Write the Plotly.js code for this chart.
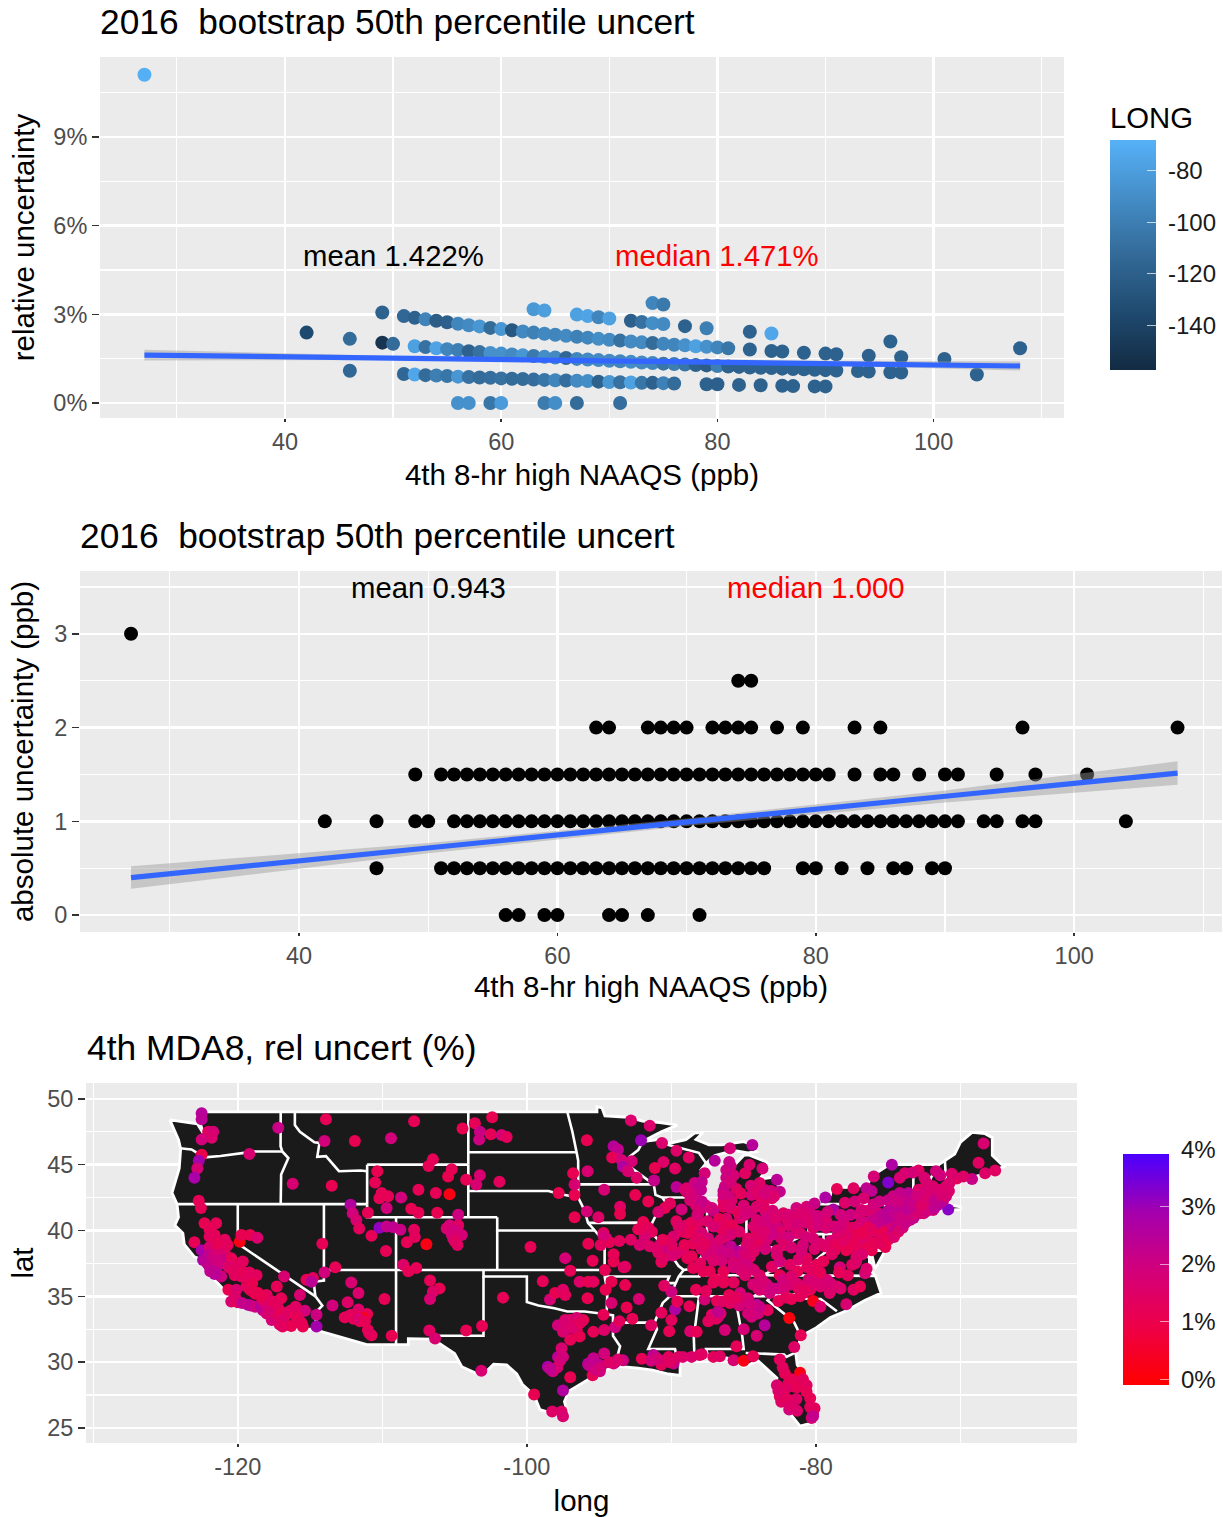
<!DOCTYPE html>
<html><head><meta charset="utf-8">
<script src="https://cdn.plot.ly/plotly-3.0.1.min.js"></script>
<style>html,body{margin:0;padding:0;background:#fff}#chart{width:1223px;height:1517px}</style>
</head><body><div id="chart"></div>
<script>
// ---- Ozone design values vs. uncertainty, one row per absolute-uncertainty level ----
const ppbAt3 = [27];
const relAt3 = [11.11];
const longAt3 = [-69];
const ppbAt25 = [74,75];
const relAt25 = [3.38,3.33];
const longAt25 = [-95,-103];
const ppbAt2 = [63,64,67,68,69,70,72,73,74,75,77,79,83,85,96,108];
const relAt2 = [3.17,3.13,2.99,2.94,2.90,2.86,2.78,2.74,2.70,2.67,2.60,2.53,2.41,2.35,2.08,1.85];
const longAt2 = [-83,-80,-78,-76,-95,-78,-120,-108,-90,-92,-118,-100,-118,-75,-118,-118];
const ppbAt15 = [49,51,52,53,54,55,56,57,58,59,60,61,62,63,64,65,66,67,68,69,70,71,72,73,74,75,76,77,78,79,80,81,83,85,86,88,90,91,94,97,101];
const relAt15 = [3.06,2.94,2.88,2.83,2.78,2.73,2.68,2.63,2.59,2.54,2.50,2.46,2.42,2.38,2.34,2.31,2.27,2.24,2.21,2.17,2.14,2.11,2.08,2.05,2.03,2.00,1.97,1.95,1.92,1.90,1.88,1.85,1.81,1.76,1.74,1.70,1.67,1.65,1.60,1.55,1.49];
const longAt15 = [-118,-115,-118,-97,-122,-120,-95,-92,-85,-112,-85,-125,-93,-98,-93,-95,-92,-98,-95,-90,-92,-108,-92,-92,-112,-95,-95,-88,-78,-88,-95,-105,-118,-118,-118,-118,-118,-118,-118,-118,-118];
const ppbAt1 = [42,46,49,50,52,53,54,55,56,57,58,59,60,61,62,63,64,65,66,67,68,69,70,71,72,73,74,75,76,77,78,79,80,81,82,83,84,85,86,87,88,89,90,91,93,94,96,97,104];
const relAt1 = [2.38,2.17,2.04,2.00,1.92,1.89,1.85,1.82,1.79,1.75,1.72,1.69,1.67,1.64,1.61,1.59,1.56,1.54,1.52,1.49,1.47,1.45,1.43,1.41,1.39,1.37,1.35,1.33,1.32,1.30,1.28,1.27,1.25,1.23,1.22,1.20,1.19,1.18,1.16,1.15,1.14,1.12,1.11,1.10,1.08,1.06,1.04,1.03,0.96];
const longAt1 = [-135,-112,-150,-112,-78,-108,-76,-95,-100,-118,-108,-88,-88,-92,-85,-103,-90,-92,-115,-95,-92,-92,-92,-95,-90,-92,-95,-105,-100,-105,-118,-122,-100,-118,-118,-118,-118,-118,-118,-118,-118,-118,-118,-118,-118,-118,-118,-118,-118];
const ppbAt05 = [46,51,52,53,54,55,56,57,58,59,60,61,62,63,64,65,66,67,68,69,70,71,72,73,74,75,76,79,80,82,84,86,87,89,90];
const relAt05 = [1.09,0.98,0.96,0.94,0.93,0.91,0.89,0.88,0.86,0.85,0.83,0.82,0.81,0.79,0.78,0.77,0.76,0.75,0.74,0.72,0.71,0.70,0.69,0.68,0.68,0.67,0.66,0.63,0.63,0.61,0.60,0.58,0.57,0.56,0.56];
const longAt05 = [-115,-115,-75,-112,-100,-105,-85,-108,-112,-110,-108,-112,-112,-110,-105,-95,-110,-92,-90,-118,-85,-108,-78,-105,-118,-98,-112,-118,-120,-118,-118,-118,-118,-118,-118];
const ppbAt0 = [56,57,59,60,64,65,67,71];
const relAt0 = [0,0,0,0,0,0,0,0];
const longAt0 = [-88,-88,-105,-82,-102,-90,-112,-110];

// ---- Linear fits and confidence ribbons ----
const fitX = [27,50,70,90,108];
const relFit = [1.62,1.52,1.44,1.35,1.25];
const relUpper = [1.80,1.59,1.51,1.43,1.40];
const relLower = [1.44,1.45,1.37,1.27,1.10];
const absFit = [0.40,0.715,0.99,1.265,1.515];
const absUpper = [0.52,0.77,1.03,1.33,1.64];
const absLower = [0.28,0.66,0.95,1.20,1.39];

// ---- Map outline of the lower 48 (long, lat) ----
const outlineLon = [-124.7,-123.2,-122.8,-122.4,-122.8,-95.15,-95.15,-94.8,-94.6,-93,-92,-90.8,-89.6,-90.7,-92,-90.9,-90.4,-89,-88.4,-87.8,-88.3,-87.4,-86.5,-85,-84.4,-84.1,-84.7,-85.5,-86.3,-87,-87.6,-88,-87.4,-87.1,-87.5,-87.9,-87.8,-87.5,-87,-86.5,-86.2,-86.5,-86.3,-85.6,-85,-84.7,-83.4,-83.3,-83.9,-82.9,-82.45,-82.9,-83.2,-83.4,-82.5,-81.7,-80.5,-79,-78.9,-77.5,-76.4,-76.2,-75,-74.7,-71.5,-71.1,-70.4,-70,-69.2,-68.3,-67.8,-67.8,-67,-68,-69,-70.2,-70.7,-70.8,-71,-70.6,-70,-70,-71.2,-72.9,-73.7,-72,-74,-74,-74.9,-75.5,-75.1,-75.9,-76.3,-76.3,-75.9,-75.5,-76.6,-77.9,-79,-80,-81,-81.4,-81.3,-80.5,-80,-80.2,-81.1,-81.8,-82.3,-82.8,-82.7,-83.4,-84,-85,-85.7,-86.5,-88,-89,-89.6,-89.4,-89.4,-90.2,-91.3,-92.3,-93.8,-94.8,-95.9,-97.1,-97.4,-97.15,-97.6,-99.1,-99.5,-100.3,-100.7,-101.4,-102.3,-102.9,-103.2,-104.5,-105,-106.5,-108.2,-108.2,-111.07,-114.8,-117.1,-117.3,-118.4,-118.5,-119.2,-120.5,-120.65,-121.9,-122.5,-122.5,-123,-123.7,-123.8,-124.35,-124.1,-124.2,-124.55,-124.05,-123.95,-124.1,-124.7];
const outlineLat = [48.4,48.15,48.1,47.4,49,49,49.4,49.3,48.7,48.6,48.3,48.2,48,47.5,46.75,46.9,46.55,46.9,47.4,47.45,46.9,46.5,46.5,46.75,46.5,46,45.9,46.05,45.9,45.7,45.1,44.55,44.9,45.25,44.4,43,42.3,41.7,41.7,42.1,43,43.6,44.7,45,45.7,45.75,45.2,44.8,43.9,44.05,43,42.4,42,41.7,41.4,41.5,42,42.7,43.3,43.25,43.5,44.1,44.95,45,45,45.3,45.8,46.7,47.45,47.35,47.05,45.7,44.85,44.4,44.1,43.6,43,42.6,42.3,41.9,41.8,41.6,41.5,41.25,40.95,41.1,40.6,39.7,38.95,39.5,38.7,37.1,38.9,37,36.6,35.25,34.7,33.9,33.4,32.6,32,30.7,29.8,28.4,26.8,25.4,25.15,26.1,27,27.9,28.8,29.5,30.1,29.65,30.2,30.4,30.25,30.4,30.2,29.8,29,29.1,29.4,29.55,29.7,29.3,28.6,27.8,27,25.95,25.9,26.4,27.5,28.3,29.1,29.8,29.85,29.2,29,29.65,30.65,31.75,31.78,31.33,31.33,32.5,32.53,33,33.75,34.03,34.15,34.45,35.15,36.6,37.5,37.8,38,38.95,39.8,40.4,41,42,42.85,44.7,46.2,46.9,48.4];
// ---- State borders, null separates one border from the next ----
const borderLon = [-124,-123.2,-122.3,-121.2,-119.3,-118.98,-116.92,null,-117.03,-117.04,-116.92,-116.5,-117,-117.03,null,-124.2,-111.05,null,-120,-120,-114.63,null,-114.63,-114.15,-114.5,-114.72,-114.5,-114.72,null,-114.04,-114.04,-114.75,-114.63,null,-114.04,-94.62,null,-111.05,-111.05,-102.05,null,-111.05,-104.05,null,-111.05,-111.05,null,-109.05,-109.05,null,-116.05,-116.05,-115.7,-114.7,-114.35,-114.5,-113.9,-113.45,-113,-111.5,-111.05,null,-104.05,-104.05,null,-104.05,-104.05,null,-104.05,-96.56,null,-104.05,-98.5,-97.9,-96.45,null,-102.05,-102.05,-95.3,null,-102.05,-102.05,null,-97.2,-96.85,-96.56,-96.45,-96.45,-91.22,null,-96.45,-96.45,-96,-95.85,-95.77,-95.3,-94.62,-94.62,null,-95.77,-91.73,-91.42,null,-103,-103,-100,-100,-99.2,-98.1,-97.2,-96,-94.48,null,-103,-103,-106.62,-106.5,null,-94.62,-94.43,-94.48,-94.04,-94.04,-94.04,-93.55,-93.75,-93.8,null,-94.04,-91.17,null,-94.62,-90.15,-90.35,-89.7,null,-92,-92.3,-92.9,-92.75,-91.22,-91.1,-90.64,-90.15,-91.05,-91.42,-91.5,-90.7,-90.2,-90.2,-89.5,-89.15,-89.5,-89.7,-90.1,-90.6,-91.17,-91,-91.6,-89.75,-89.6,null,-90.64,-87.8,null,-90.4,-88.1,-87.6,null,-87.53,-87.53,-87.6,-88,null,-89.15,-88.5,-88,-87,-86.3,-85.6,-85.4,-84.82,-84.2,-83,-82.6,null,-84.82,-84.8,null,-87,-84.8,-83.45,null,-80.52,-80.52,-80.7,-81.7,-82.2,-82.6,-82.6,-81.97,-83.68,-88.07,-88.07,-89.5,null,-83.68,-81.68,-75.87,null,-81.68,-82,-83.1,-84.32,null,-90.1,-83.11,-82.3,-81.05,-80.8,-79.68,-78.55,null,-83.11,-83.35,-82,-81.5,-81.1,null,-81.45,-82.05,-82.2,-84.86,null,-87.45,-87.6,-85,-85.1,-85.6,null,-88.2,-88.1,-88.45,-88.4,null,-81.97,-81.68,-80.3,-79.3,-78.35,-77.75,-77.1,-77.25,-76.3,null,-77.75,-78.35,-79.48,-79.48,null,-80.52,-75.79,-75.7,-75.05,null,-80.52,-80.52,null,-79.76,-79.76,-75.35,-74.7,-75.1,-74.75,-75.5,null,-74.7,-73.9,null,-73.65,-73.5,-73.27,-73.25,null,-73.27,-71.3,-70.8,null,-73.5,-71.8,-71.38,-71.2,null,-71.8,-71.85,null,-72.46,-72.05,-71.5,null,-71.08,-70.98,-70.7];
const borderLat = [46.25,46.15,45.55,45.65,45.93,46,46,null,49,46.4,46,45.5,44.25,42,null,42,42,null,42,39,35,null,35,34.3,33.9,33.4,33,32.72,null,42,36.2,36.1,35,null,37,37,null,42,41,41,null,45,45,null,42,45,null,41,31.33,null,49,48,47.5,46.7,46.65,45.6,45.65,45.05,44.5,44.55,44.5,null,49,45,null,45,41,null,45.94,45.94,null,43,43,42.8,42.5,null,41,40,40,null,40,37,null,49,47.5,45.94,45.3,43.5,43.5,null,43.5,42.5,41.5,41,40.58,40,39.1,36.5,null,40.58,40.6,40.38,null,37,36.5,36.5,34.56,34.3,34.1,33.85,33.85,33.64,null,36.5,32,32,31.75,null,36.5,35.4,33.64,33.55,33,32,31.2,30.4,29.7,null,33,33,null,36.5,36.5,36,36,null,46.7,46.1,45.6,44.75,43.5,42.7,42.5,41.8,41.2,40.38,40,39,38.7,38.4,37.3,37,36.5,36,35,34.5,33,32.5,31,31,30.2,null,42.5,42.5,null,46.55,45.9,45.1,null,41.7,39.35,38.7,37.85,null,37,37.1,37.85,37.9,38.1,38.3,38.7,39.1,38.85,38.7,38.4,null,39.1,41.7,null,41.76,41.76,41.73,null,42,39.72,39.7,39.2,38.6,38.4,37.9,37.54,36.6,36.6,36.5,36.5,null,36.6,36.59,36.55,null,36.59,36.1,35.75,35,null,35,35,35.2,35.1,34.82,34.8,33.86,null,35,34.7,33.5,33,32.1,null,30.7,30.4,30.57,30.7,null,30.4,31,31,32,34.98,null,35,34.9,31.9,30.2,null,37.54,37.2,37.5,38.4,39.4,39.3,38.9,38.4,37.95,null,39.3,39.6,39.2,39.72,null,39.72,39.72,38.46,38.46,null,40.64,39.72,null,42.27,42,42,41.36,40.95,40.2,39.8,null,41.36,41,null,41,42.05,42.75,45,null,42.75,42.7,42.87,null,42.05,42.02,42.02,41.5,null,42.02,41.3,null,42.73,44,45,null,45.3,43.4,43.05];

// ---- Monitor sites: long, lat, relative uncertainty (%) ----
const siteLon = [-122.5,-122.5,-117.2,-122.05,-121.7,-121.8,-122.5,-119.2,-122.5,-122.7,-122.8,-123,-122.7,-122.55,-116.2,-113.5,-113.9,-114,-111.9,-109.4,-107.8,-104.45,-103.6,-102.4,-103.25,-103.3,-102.5,-101.75,-101.4,-106.5,-106.8,-105.2,-105.45,-110.35,-110.5,-104.2,-103.25,-103.5,-101.9,
-110.05,-109.6,-110.2,-109.7,-108.7,-107.5,-106.3,-105.35,-108,-107.5,-106.2,-104.75,-111,-112.2,-112.05,-111.8,-111.6,-110.75,-110.2,-109.7,-109.25,-108.75,-107.8,-107.75,-108.3,-106.95,-109.75,-114.15,
-105.35,-104.75,-105.1,-104.5,-104.8,-105.55,-105.1,-108.55,-108.2,-107.65,-106.7,-106.05,-106.5,-106.7,-113.25,-114,-112.15,-111.65,-112.4,-113.45,-109.85,
-112.6,-112.15,-111.65,-111.05,-111.3,-111.55,-111,-110.75,-109.35,-111.9,-106.75,-106.35,-104.2,-103.1,-101.65,-98.9,-99.75,
-119.86,-119.75,-119.15,-118.65,-116.8,-115.25,-114.8,-114.9,-115.7,-114.55,-114.55,
-122.3,-121.5,-121.95,-121.6,-123,-122.5,-121.95,-121.25,-120.9,-120.45,-122.4,-121.95,-121.5,-121.15,-120.1,-119.65,-119.75,-119.15,-118.7,-120.65,-120.1,-119.15,-118.6,-120.45,-120,-119.3,-118.6,-118,-117.3,-117,-117.8,-117.45,-116.3,-115.35,-117.1,-116.3,-115.5,-116.75,-115.8,
-121.95,-121.5,-121.15,-120.65,-120.2,-119.4,-121.25,-121.85,-118.25,-118,-117.65,-117.2,
-99.5,-98.25,-97.6,-97.5,-103.15,-97.5,-98.55,-98.2,-97,-97.85,-97.6,-97,-97.85,-97,-96.1,-97.5,-96.55,-96.35,-96.9,-95.75,-97.35,-96.55,-97.15,
-98.4,-98.05,-97.5,-97.35,-96.35,-95.75,-95.8,-97.35,-97,-95.75,-97.8,-96.7,-96.8,-96.7,-95.85,-95.8,-96.7,-95.85,
-94.65,-92.5,-91.6,-93.55,-93.55,-95.05,-91.95,-92.8,-91.5,-92.1,-90.65,-89.65,-88.8,-90.55,-91.15,-89.75,-91.2,-94,-93.7,-94.1,-93.45,-92.75,-93.35,-93,-92.4,
-89.65,-88.95,-88.4,-87.7,-87.9,-88.5,-88.15,-89.05,-90.45,-90.1,-88.7,-88.25,-87.7,-88.05,
-85.95,-84.4,-87,-86.05,-85.7,-86.3,-84.9,-85.5,-85.85,-86.4,-87.1,-84.45,-83.5,-82.7,-82.5,-83.05,-83.75,-83.5,-86.2,-86.05,-86.4,
-89.65,-88.95,-88.25,-88.85,-91.35,-91.85,-92.2,-90.8,-89.85,-90.1,-90.45,-89.65,-88.5,-88.6,-87.45,-86.55,-87.1,-86.2,-85.6,-85.25,-85.7,-85,-84.55,-87.55,-86.9,-84.55,-88.5,-87.8,-87.35,-86.4,-85.5,-86.3,-86.55,-87.1,
-84.7,-84.1,-83.05,-82.7,-84.1,-82.25,-81.35,-80.65,-80.1,-81.55,-80.3,-79.25,-78.1,-81.35,-79.7,-78.8,-79.35,-78.55,-77.4,-76.5,-76.15,-83.4,-83.9,-82,-81.9,-80.9,-81.1,-80.4,-79.7,-82.5,
-76,-75,-74.75,-74.2,-73.85,-72.9,-72.35,-73.6,-71.4,-70.25,-69.2,-68.75,-68.3,-67.6,-68.4,-76.7,-76.85,-75.7,-71.9,-71,-72.6,-71.4,-72.9,-74.65,-74.2,
-78.1,-77.5,-76.7,-76,-75.35,-74.65,-74.2,-73.5,-72.8,-72.1,-70.75,-77.2,-76.25,-75.55,-74.9,-74.2,-73.25,-72.55,-71.55,-70.85,-71.9,-71.2,-78.7,-77.9,-76.15,-75.2,-77.05,-76.5,-75.8,-75.1,-74.4,-73.85,-73,-72.35,-71.65,-77.4,-76.6,-75.65,-74.5,-73.6,-72.9,-73.5,-72.1,
-82.7,-83.05,-82.5,-80.9,-80.65,-79.95,-79.5,-78.35,-77.3,-76.6,-81.3,-82.5,-76.5,-82.7,-77.5,
-83.9,-84.35,-83.65,-83.2,-82,-81.35,-80.2,-79.25,-78.55,-81.1,-80.4,-80.2,-79.7,-79.05,-77.9,-77.4,-76.95,-82.6,-87.1,-86.4,-85.7,-87.7,-86.85,-85.25,-84.7,-84.1,-84.2,-84.45,-83.55,-83.35,-84.1,-85,-85.95,-86.75,-87.45,-86.3,-81.85,-81.05,-81.5,-83.9,-83.4,-80.65,-79.7,
-93.2,-93.2,-94,-94.6,-95.4,-94.15,-94.55,-94.15,-93.1,-92.25,-90,-89.75,-90.7,-88.75,-90.15,-88.7,-88.25,
-95.4,-94.65,-93.9,-94.65,-95.4,-95.75,-94.95,-94,-93.35,-95.45,-92.05,-91.25,-90.7,-90.2,-89.85,-89.2,-88.6,-88.05,-87.1,-86.65,-85.7,-85.5,-85,-84.35,-95.2,-93.9,
-82.5,-82.15,-81.1,-82.7,-81.9,-81.35,-80.65,-82.5,-80.4,-81.35,-81.85,-80.2,-80.3,-82.25,-82.4,-80.65,-81.55,
-94.7,-94.5,-95.45];
const siteLat = [48.9,48.45,47.8,47.5,47.5,47.05,46.9,45.8,45.75,45.3,44.7,44,42.25,41.7,43.55,43.4,48.45,46.8,46.8,47,48.3,47.75,48.15,48.6,47.5,46.9,47.3,47.25,47.1,45.4,44.9,44.65,44.1,44.5,43.65,43.85,44.2,43.5,43.7,
42.85,42.6,42.45,41.7,42.5,43.1,42.85,42.75,41.65,41.35,41.35,41.2,41.35,41.95,41.3,40.8,40.15,39.6,40.2,40.3,40.25,40.05,40.05,39.5,39.1,38.95,38.45,39,
40.4,40.4,39.9,39.65,38.9,40.15,39.4,37.4,36.9,37.15,36.2,35.6,35.35,34.8,37.2,36.8,36.05,35.25,34.55,34.3,34.8,
33.4,33.6,34,33.65,33.35,33.1,32.45,32.05,32,33.45,32.4,31.8,32.4,32.75,34.9,36.15,38.75,
39.15,39.65,39.65,39.45,36.5,36.25,36.4,36.1,35.1,33.6,32.7,
40.55,40.55,40.05,39.65,39.1,38.5,38.75,39,38.3,37.9,37.75,37.25,37,36.5,37.25,37.65,36.5,36.25,36.6,35.5,35.5,35.5,35.25,34.6,34.55,34.35,34.25,35.1,35.75,34.85,34.2,33.7,33.95,33.9,32.85,32.75,32.7,33.45,33.45,
39.55,38.25,37.5,37.25,36.6,35.75,38,37.9,33.95,33.7,33.2,34.1,
27.55,26.25,26.25,25.9,29.35,27.85,29.65,29.3,28.85,30.4,31.05,31.7,32.8,33.2,33.2,32.3,32.45,31.95,32.95,29.9,33.2,33.35,32.6,
34.75,35.25,35.5,35.1,36.1,36.1,34.85,37.9,36.95,39,42.85,42.7,44.35,43.5,46.85,44.5,41,41.45,
43.1,42.7,42.2,41.8,41.25,41,40.65,48.35,47.95,46.85,46.65,46.05,45.55,45.2,44.75,44.7,43.8,46.4,46.15,45.55,45.35,45.25,44.85,44.5,44,
43.3,43.2,43.6,44.35,43.7,42.6,41.3,43.1,41.7,42.05,42.3,42.95,41.95,43.3,
46.25,46.5,45.3,44.5,44.2,43.35,44.35,43.15,42.3,41.8,41.5,42.7,43.05,43.85,42.95,42.45,42.35,41.45,44,42.6,42.3,
40.7,40.4,40.15,39.8,39.9,39.5,38.9,38.9,39.55,38.75,38,38.25,39,38.05,39.4,40.55,39,39.8,40.05,40.95,38.25,37.75,38,38.15,38.25,37.15,37.15,36.9,36.9,36.9,38.25,39.55,40.15,38,
39.4,39.8,40.3,40.3,40.8,41.3,41.7,41.8,42.05,40.8,40.8,40.65,40.65,39.8,39,41.6,42.5,43.15,43.2,43.2,43,39.3,39.55,40.8,41.2,40.95,41.3,41.3,41.05,39.9,
44.1,43.65,45,44,44.35,44.55,43.6,42.85,44.2,43.95,43.9,45.15,44.35,44.55,46.6,42.45,41.55,41.3,43.35,43.35,42.6,43.1,43.1,42.6,42.85,
39.4,39.8,40.05,40.3,40.65,41.05,41.45,41.7,42.05,42.6,43.6,39,39.15,39.55,39.8,40.55,40.95,41.3,41.95,41.6,41.55,42.3,38.5,38.5,38.5,38.75,39.4,39.65,39.9,40.3,40.65,41.05,41.55,41.95,42.45,39.15,38.9,39.05,40.05,41.3,42.3,40.8,42.05,
38.5,37.25,37.65,38.9,37.9,37.4,37.65,37.2,37.5,36.75,36.9,36.6,37.1,38.15,37.4,
36.6,35.9,35.75,35.25,36.25,36,36.15,36.25,35.75,35,35.5,34.65,34.2,35.25,34.4,35.5,35.75,34.65,36.05,36.05,36.05,34.75,34.65,35.25,34.85,34.35,33.85,33.45,32.8,33.95,32,32.5,34.5,33.45,33.1,32.45,33.35,32.05,31.15,35.5,35.5,35.9,35.75,
37.25,35.85,37.65,37,36.1,36.1,35.5,34.5,34.15,34.8,35.35,34,33.75,34.25,32.35,32.35,32.3,
32.3,32.45,32.65,30.65,30.3,29.8,29.3,29.9,30.15,29,30.25,30.55,29.8,30.4,29.9,30.4,30.4,30.55,30.4,30.45,30.15,31.2,30.1,30.45,29.65,30,
30.2,29.15,29.2,28.25,28.4,28.5,28.25,27.4,27.25,27.2,26.4,26.1,25.75,27.75,27,27.75,28.15,
39.8,39.4,37.7];
const siteRel = [2.5,2.4,2.1,1.4,1.8,1.6,1.9,1.7,1,2.9,1.8,2.8,1.2,1.2,1.7,1.1,1.2,1.9,1.1,1.9,1.2,1.1,1.2,1.1,2.1,2,1.2,1.8,1.3,1.2,1.2,1.2,1.1,1.1,1.2,1.2,1.7,1.7,1.3,
1.2,1.2,1.2,1.9,1.9,1.2,1.2,0.2,1.1,1.2,1.1,2,1.2,2.6,1.9,1.7,1.3,1.2,3.1,2.2,2.3,2.1,1.3,1.3,1.2,0.2,1.2,1.2,
1.9,1.4,2,1.8,1.4,1.7,1.9,1.5,1.2,1.2,1.2,1.1,1.5,1.7,1.2,1.9,1.7,1.6,1.5,1.9,1.2,
1.2,1.5,1.6,1.2,0.2,1.2,1.2,1.1,1.1,1.4,1.4,1.7,1.2,1.2,1.2,1.2,1.2,
0.2,1.1,1.1,1.6,1.7,1.2,1.3,2.4,1.7,2,2.9,
1.1,1.2,1.2,1.2,1.2,2.8,1.7,1.6,1.5,1.2,2.7,2.3,2.3,2,1.4,1.3,1.3,1.3,1.3,1.1,1.7,1.2,1,1.6,1.2,2.6,2.1,1.3,1.2,1.2,1.9,1.3,1.1,1.9,1.7,1.1,1.1,1.2,1.5,
1.3,2,2.1,1.6,1.3,1.3,2.2,2.4,2.2,1.7,1.8,1.4,
1.1,1.5,1.5,1.7,1.7,2.6,2.8,2,1.1,2.4,1.7,1.2,1.9,1.5,1.1,1.6,1.2,1.1,1.8,2.5,1.6,1.7,1.9,
1.8,1.1,1.5,1.3,1.5,1.1,1.1,1.8,1.2,1.1,1.1,1.1,1.1,1.7,1.1,1.7,1.1,1.8,
1.8,1.1,1.1,1.4,1.1,1.5,1.1,1.6,1.6,3,1.6,1.5,1.4,1.5,1.1,1.4,2.2,2.5,2.3,1.2,1.8,1.8,2.6,1.7,1.5,
2.4,1.7,2,1.8,2.2,1.8,1.8,1.5,1.2,1.3,1.7,2.1,2,2.3,
1.8,2.5,2.5,1.9,1.8,2,1.4,1.4,1.6,1.2,2.2,1.8,1.8,2.4,2.2,1.4,1.3,1.9,2,1.9,1.3,
1.3,1.6,1.3,1.1,1.3,1.7,1.7,1.7,1.7,1.5,2.3,1.4,1.2,1.2,1.8,1.8,1.7,1.4,0.3,1.6,3.3,1.9,1.4,1.8,1.7,1.7,1.2,1.2,1.2,1.2,2.4,1.2,1.3,1.8,
1.4,1.3,1.9,2,1.6,1.5,1.9,1.8,2.1,1.3,1.5,1.6,1.8,1.7,1.6,2.7,2.7,1.2,1.4,2.3,2.3,1.7,1.5,1.5,1.7,1.9,1.6,1.8,1.5,1.5,
1.8,3.3,2.7,1.7,1.7,1.4,1.6,2.4,1.9,1.3,2.1,1.4,1.5,1.4,1.7,1.7,1.7,1.4,1.6,1.7,1.5,1.6,1.5,2,2.2,
1.2,1.2,1,1.2,2.1,2.3,2.4,2.4,1.9,1.7,1.6,1.6,1.5,1.7,2,1.9,2.3,2,2.9,3.2,1.8,2.1,1.2,1.1,1.1,1.1,1.5,1.3,1.4,1.7,2,2.2,2.1,2,1.8,1.3,1.5,1.4,2.3,1.9,1.8,2.2,1.8,
1.6,1.4,1.9,1.8,1.3,1.2,1.2,1.8,1.6,1.8,1.2,1.1,1.6,1.7,1.4,
1.5,1.7,1.8,1.9,2.5,1.6,1.6,1.7,1.6,1.2,1.2,0.3,1.6,1.5,1.7,1.4,1.2,1.2,1.2,1.2,1.3,1.8,1.2,1.8,1.7,2.5,2.3,1.9,2.5,1.3,1.7,1.8,1.3,2.5,1.3,1.8,0.1,1.2,1.5,1.7,1.9,1.6,1.6,
1.3,1.1,1.1,1.2,1.3,1.1,1.1,1.7,1.1,1.7,2,2.7,1.3,1.2,1.2,1.6,1.2,
1.2,1.5,2,1.9,2.2,2.5,2,1.9,2,1.2,1.2,2.4,1.3,1.3,2.2,1.6,1.6,1.5,1.3,1.4,1.7,1.2,0.2,1.2,2.3,1.7,
1.3,1.2,0.2,1.7,1.2,1.2,1.4,1.2,1.2,1.5,1.9,2.4,1.8,1.2,1.4,1.2,1.3,
1.2,1.9,1.2];

// ---- Further sites in the dense clusters of the map ----
const corridorLon = [-79,-78.5,-78,-77.5,-77,-76.5,-76,-75.5,-75,-74.5,-74,-73.5,-73,-72.5,-72,-78.8,-78.3,-77.8,-77.3,-76.9,-76.4,-76,-75.4,-75,-74.6,-74.3,-74,-73.8,-73.3,-72.8,-72.3,-71.8,-71.4,-71,-70.8,-76.4,-75.9,-75.5,-75,-74.6,-74.1,-73.7,-73.2,-72.7,-72.3,-71.8,-71.3,-75.2,-75.7,-76.2,-76.9,-77.4,-77.9];
const corridorLat = [39.2,39.6,39.9,40.2,40.4,40.6,40.9,41.2,41.5,41.8,42.1,42.3,42.6,42.9,43.2,38.9,39,39.1,38.7,38.4,38.7,39,39.3,39.3,39.5,39.9,40.2,40.6,41.2,41.3,41.5,41.7,42.1,42.6,43,40.2,40.3,40.1,40.7,41,41,41.6,41.9,41.9,42.4,42.3,42.7,40.9,40.6,40.1,39.8,39.6,39.6];
const corridorRel = [1.7,1.6,1.8,1.4,1.6,1.9,2.1,2.2,2.4,2.3,2,2.2,1.9,1.8,1.7,1.3,1.1,1,1.2,1.3,1.1,1.2,1.3,1.1,1.6,1.5,1.8,2.1,1.9,1.7,1.9,2.3,2.4,1.8,1.6,1.2,1.5,1.1,1.8,2.2,2,2.3,2.1,1.5,1.6,2.2,1.7,2.4,2.2,1.3,1.1,1.2,1.5];
const ohioLon = [-81.9,-81.3,-80.7,-80.2,-79.8,-79.3,-78.7,-80.5,-79.9,-79.2,-78.3,-77.6,-77,-76.4,-76,-75.6,-75,-74.5,-78,-77.3,-82.8,-83.4,-83.8,-84.3,-82.4,-81.9,-81.1,-80.7,-80.2,-83,-83.6,-84.4,-83.9,-83.5,-84.8];
const ohioLat = [40.4,40.5,40.6,40.2,40.4,40.2,40.3,41,41.1,41.4,41.2,41.2,41.2,41.5,42,42.2,42.3,42.3,42.1,42.2,41.2,41,40.5,40.3,39.4,39.5,39.8,39.5,39.4,39.7,39.9,39.1,38.9,38.6,38.9];
const ohioRel = [1.6,1.8,1.7,1.5,1.9,1.7,1.8,1.6,1.9,1.8,1.9,2,1.8,1.7,1.9,2,2.1,2,1.6,1.8,1.7,1.9,1.8,1.6,1.7,1.9,1.6,1.8,1.7,2,1.6,1.5,1.3,1.8,1.6];
const midwestLon = [-87.2,-87.5,-87.9,-88.3,-87.9,-88.4,-88.9,-87.95,-86.3,-85.9,-85.4,-84.9,-86.2,-86.7,-87.1,-86.3,-85.8,-85.3,-85.9,-86.6,-87.2,-86.5,-85.9,-85.4,-85.1,-84.9,-84.3,-84.8,-85.7,-86.5,-87.1,-86.2,-85.9,-86,-84.6,-83.7,-83.9,-84.5,-85.2,-83.3,-83.1,-84.1,-82.9,-83.6,-86.4,-85.9,-86.4,-90.3,-90,-90.5,-90.9,-90.2,-89.9,-90.6,-89.2,-89.5,-88.6,-88.1,-87.9];
const midwestLat = [41.7,41.8,41.7,41.9,42.2,42.8,42.9,43.1,41.9,41.7,41.4,41.2,40.9,40.9,40.3,40.5,40.4,39.9,39.7,39.3,38.6,38.5,38.8,38.4,38.3,38.1,38.4,37.4,37.6,37.7,37.7,44.6,44.9,45.2,45,44.7,43.6,43.4,42.8,42.7,43,42.9,42.6,41.8,43,43.7,42.7,38.6,38.9,38.4,38.3,39.2,38.4,39.3,39.9,40.3,40.6,40.7,39.8];
const midwestRel = [2,1.8,1.9,1.7,2.1,1.9,1.7,2.2,1.4,1.6,1.3,1.8,1.6,1.2,1.7,1.3,1.2,1.5,1.7,1.6,1.8,2,2.3,2.6,2,1.7,1.5,1.9,1.7,1.8,1.6,2,1.9,2.1,1.6,1.8,1.5,1.7,1.3,1.7,1.9,1.5,1.6,1.4,2.1,1.8,1.9,1.7,1.6,2.1,1.5,1.4,1.3,1.2,1.3,1.5,1.2,1.4,1.7];
const southeastLon = [-84.1,-83.9,-84,-83.4,-83,-82.6,-82.2,-81.7,-81.2,-80.8,-80.5,-80,-79.5,-79,-78.8,-78.3,-82.3,-81.7,-80.5,-79.9,-82.1,-81.7,-84.4,-84,-83.9,-84.7,-84.6,-85.1,-85.3,-86.5,-86.9,-86.6,-87.2,-86.8,-86.4,-87,-83.7];
const southeastLat = [35.9,36,35.6,35.9,35.6,35.6,35.6,35.9,35.6,35.3,35.6,35.9,36,36,35.7,35.6,36.3,36.5,36.3,36.3,34.9,34.8,34,33.7,34.2,33.7,34.4,34.9,34.3,34.6,33.3,33.7,33.6,33.8,36.2,36.3,36.2];
const southeastRel = [1.7,1.9,1.7,1.9,2,2,1.8,1.7,1.4,1.3,1.3,1.6,1.7,1.8,1.7,1.6,1.9,1.6,1.7,1.7,1.3,1.2,2.2,1.9,2.1,1.8,1.9,1.7,1.8,1.4,1.3,1.6,1.4,2.2,1.2,1.2,1.7];
const westLon = [-122,-122.2,-122.1,-121.8,-121.6,-121.9,-121.4,-121.7,-120.7,-121.2,-120.9,-121.5,-120.6,-120.3,-119.9,-119.6,-119.2,-119.4,-119,-119,-118.8,-120.2,-119.7,-119.1,-118.8,-118.4,-118.1,-117.7,-117.4,-117.9,-117.2,-117,-116.9,-116.5,-116,-117.1,-116.9,-115.6,-116,-117.6,-118.2,-118.4,-121.4,-112.3,-112,-111.8,-111.6,-111.2,-110.9,-105,-105.2,-104.9,-104.9,-105];
const westLat = [38.1,37.8,37.5,37.3,36.7,36.9,37.7,38,38.9,38.6,39.3,38.6,37.2,36.9,36.9,36.8,36.8,36.3,36,35.4,35.2,35,34.5,34.3,34.2,34.2,34.2,34,34,33.8,33.5,33.8,33.2,33.8,33.5,33,32.7,33,34.2,34.6,34.7,35,39,33.5,33.3,33.6,33.3,33.1,32.2,40,39.7,39.9,39.6,39.2];
const westRel = [2.3,2.4,2.3,2.2,2.5,2.3,1.9,2,1.2,1.5,1.3,1.7,1.5,1.3,1.4,1.2,1.3,1.3,1.1,1.1,1.1,1.5,2.2,2.3,2,2.4,2.1,1.6,1.4,1.7,1.4,1.2,1.6,1.4,1.2,1.5,1.3,1.2,1.4,1.3,1.4,1.1,1.2,1.3,1.2,1.3,1.6,1.2,1.3,2,1.8,1.9,1.7,1.4];
const gulfLon = [-82.1,-82.4,-81.7,-81.3,-80.9,-82.3,-82,-81.7,-81.3,-80.4,-80.1,-80.2,-82.6,-95.6,-95.2,-95,-94.9,-94.3,-93.7,-91.1,-90.9,-91.4,-90.1,-89.5,-87.9,-96.8,-97.2,-96.6,-97,-96.8,-96.3,-97.7,-97.9,-98.4,-97.5,-94.6,-94.3,-94.7,-94.9,-93.3,-90.7,-91.5];
const gulfLat = [28,28,28.7,28.1,28.7,29.6,27.2,26.7,26.3,26.6,26.5,25.9,27.8,29.7,29.4,29.8,29.6,30,30.2,30.4,30.2,30.1,30,30.4,30.6,33,33,32.8,32.7,32.6,33,30.1,29.6,29.5,30.4,39.2,39.1,39.6,38.9,37.2,37.6,38.8];
const gulfRel = [1.5,1.3,1.2,1.2,1.3,1.3,1.3,1.5,1.6,1.3,1.3,2.2,1.5,2.2,1.9,2.3,1.8,1.5,1.6,2.1,1.7,1.9,1.4,1.5,1.4,1.6,1.7,1.4,1.5,1.6,1.3,1.8,1.7,2.3,1.9,1.4,1.2,1.8,1.3,1.4,1.2,1.5];
const interiorLon = [-89.2,-89.9,-90.6,-91,-91.6,-92.3,-92.8,-93.6,-94,-90.9,-89.3,-88.2,-87.5,-87.9,-88.9,-88.2,-87.7,-89.1,-88,-85,-84.5,-84.1,-83.6,-83,-82.8,-82.2,-81.7,-81,-80.1,-79.4,-78.9,-78.4,-77.8,-77.2,-76.8,-80.3,-79.7,-78.1,-77.2,-81.8,-81.2,-80.6,-85.2,-85.7,-86,-84.9,-84.3,-88.3,-87.6,-86,-85.5,-90.5,-89.6,-90,-91.4,-92.7,-93.6,-94.7,-73.3,-72.5,-71.7,-70.6,-69.8];
const interiorLat = [38.5,38.1,37.9,38.6,40.2,40.1,39.3,39.2,38.2,41.4,41.6,41.2,40.7,38.6,37.9,39.4,39,38.9,37.5,41.9,41.4,41.8,42.8,41.5,40.9,38.9,38.7,38.4,38.6,38.8,38.2,36.8,36.6,38,38.2,37,36.8,39.2,37.7,37.4,37.8,37.2,37,37.2,38.3,36.6,37,35.5,35.4,35.1,34.9,35.8,34.6,33.2,32.8,33.3,33.1,33.6,44.4,44,44.5,44.3,44.1];
const interiorRel = [1.6,1.7,1.4,1.5,1.3,1.2,1.4,1.3,1.2,1.7,1.9,1.8,1.6,1.5,1.2,1.4,1.3,1.2,1.3,1.7,1.8,1.6,1.8,1.7,1.6,1.5,1.7,1.8,1.6,1.5,1.4,1.2,1.3,1.5,1.6,1.3,1.2,1.4,1.5,1.4,1.6,1.3,1.7,1.8,2,1.6,1.7,1.2,1.3,1.2,1.3,1.4,1.2,1.3,1.4,1.2,1.3,1.2,1.8,1.7,1.9,1.6,1.5];

// ---- Axis and colour-bar labels ----
const longTicks = [-120,-100,-80];
const longTickLabels = ['-120','-100','-80'];
const legendLongVals = [-140,-120,-100,-80];
const legendLongText = ['\u00A0-140','\u00A0-120','\u00A0-100','\u00A0-80'];
const legendRelVals = [0,1,2,3];
const legendRelText = ['\u00A00%','\u00A01%','\u00A02%','\u00A03%'];

// ---- Page geometry helpers ----
const W = 1223, H = 1517;
const hDom = (a,b)=>[a/W,b/W];
const vDom = (top,bot)=>[1-bot/H,1-top/H];
const FONT = 'Liberation Sans, Arial, sans-serif';
const TICK = {family:FONT,size:23.5,color:'#4D4D4D'};
const TITLE = {family:FONT,size:29.5,color:'#000'};
const BLUES = [[0,'#132B43'],[0.25,'#1F4A6F'],[0.5,'#336A98'],[0.75,'#448DC7'],[1,'#56B1F7']];
const REDS = [[0,'#FF0000'],[0.25,'#EE0047'],[0.5,'#D2007B'],[0.75,'#A400AE'],[1,'#4B00FF']];

function axis(extra){
  return Object.assign({showgrid:true,gridcolor:'#fff',gridwidth:2.4,zeroline:false,showline:false,
    ticks:'outside',tickwidth:1.6,tickcolor:'#333',tickfont:TICK,automargin:false},extra);
}
const minor = (tick0,dtick)=>({showgrid:true,gridcolor:'#fff',gridwidth:1.2,ticks:'',tick0,dtick});

const allPpb = [].concat(ppbAt3,ppbAt25,ppbAt2,ppbAt15,ppbAt1,ppbAt05,ppbAt0);
const allRel = [].concat(relAt3,relAt25,relAt2,relAt15,relAt1,relAt05,relAt0);
const allLong = [].concat(longAt3,longAt25,longAt2,longAt15,longAt1,longAt05,longAt0);
const allAbs = [].concat(ppbAt3.map(()=>3),ppbAt25.map(()=>2.5),ppbAt2.map(()=>2),ppbAt15.map(()=>1.5),ppbAt1.map(()=>1),ppbAt05.map(()=>0.5),ppbAt0.map(()=>0));
const mapLon = [].concat(siteLon,corridorLon,ohioLon,midwestLon,southeastLon,westLon,gulfLon,interiorLon);
const mapLat = [].concat(siteLat,corridorLat,ohioLat,midwestLat,southeastLat,westLat,gulfLat,interiorLat);
const mapRel = [].concat(siteRel,corridorRel,ohioRel,midwestRel,southeastRel,westRel,gulfRel,interiorRel);

const ribbonX = fitX.concat(fitX.slice().reverse());
const traces = [
 {type:'scatter',mode:'markers',x:allPpb,y:allRel,xaxis:'x',yaxis:'y',
  marker:{size:14,color:allLong,cmin:-157.3,cmax:-68,colorscale:BLUES,line:{width:0},showscale:true,
   colorbar:{x:1110/W,xanchor:'left',xpad:0,y:1-140/H,yanchor:'top',ypad:0,len:230,lenmode:'pixels',thickness:46,thicknessmode:'pixels',
    outlinewidth:0,tickmode:'array',tickvals:legendLongVals,ticktext:legendLongText,ticks:'inside',ticklen:9,tickwidth:1,tickcolor:'rgba(255,255,255,0.7)',
    tickfont:{family:FONT,size:24,color:'#1a1a1a'}}}},
 {type:'scatter',mode:'lines',x:ribbonX,y:relUpper.concat(relLower.slice().reverse()),xaxis:'x',yaxis:'y',fill:'toself',fillcolor:'rgba(153,153,153,0.45)',line:{width:0}},
 {type:'scatter',mode:'lines',x:fitX,y:relFit,xaxis:'x',yaxis:'y',line:{color:'#3366FF',width:5.2}},

 {type:'scatter',mode:'markers',x:allPpb,y:allAbs,xaxis:'x2',yaxis:'y2',marker:{size:14,color:'#000',line:{width:0}}},
 {type:'scatter',mode:'lines',x:ribbonX,y:absUpper.concat(absLower.slice().reverse()),xaxis:'x2',yaxis:'y2',fill:'toself',fillcolor:'rgba(153,153,153,0.45)',line:{width:0}},
 {type:'scatter',mode:'lines',x:fitX,y:absFit,xaxis:'x2',yaxis:'y2',line:{color:'#3366FF',width:5.2}},

 {type:'scatter',mode:'lines',x:outlineLon,y:outlineLat,xaxis:'x3',yaxis:'y3',fill:'toself',fillcolor:'#1A1A1A',line:{color:'#fff',width:2.8}},
 {type:'scatter',mode:'lines',x:borderLon,y:borderLat,xaxis:'x3',yaxis:'y3',connectgaps:false,line:{color:'#fff',width:2.6}},
 {type:'scatter',mode:'markers',x:mapLon,y:mapLat,xaxis:'x3',yaxis:'y3',
  marker:{size:12,color:mapRel,cmin:-0.1,cmax:3.91,colorscale:REDS,line:{width:0},showscale:true,
   colorbar:{x:1123/W,xanchor:'left',xpad:0,y:1-1154/H,yanchor:'top',ypad:0,len:231,lenmode:'pixels',thickness:46,thicknessmode:'pixels',
    outlinewidth:0,tickmode:'array',tickvals:legendRelVals,ticktext:legendRelText,ticks:'inside',ticklen:9,tickwidth:1,tickcolor:'rgba(255,255,255,0.6)',
    tickfont:{family:FONT,size:24,color:'#1a1a1a'}}}}
];

const note = (text,x,y,xref,yref,size,color,anchor)=>({text,x,y,xref,yref,showarrow:false,
  xanchor:anchor||'center',yanchor:'middle',font:{family:FONT,size,color:color||'#000'}});

const layout = {
 width:W,height:H,margin:{l:0,r:0,t:0,b:0,autoexpand:false},paper_bgcolor:'#fff',plot_bgcolor:'#EBEBEB',showlegend:false,hovermode:false,
 title:{text:'2016  bootstrap 50th percentile uncert',x:100/W,xanchor:'left',xref:'paper',y:1-22/H,yanchor:'middle',yref:'paper',font:{family:FONT,size:35.3,color:'#000'}},
 xaxis:axis({domain:hDom(100,1064),anchor:'y',range:[22.89,112.06],tickmode:'linear',tick0:40,dtick:20,ticklen:3,minor:minor(30,20),title:{text:'4th 8-hr high NAAQS (ppb)',font:TITLE,standoff:10}}),
 yaxis:axis({domain:vDom(57,418),anchor:'x',range:[-0.51,11.71],tickmode:'linear',tick0:0,dtick:3,ticklen:7,ticksuffix:'%',minor:minor(1.5,3),title:{text:'relative uncertainty',font:TITLE,standoff:10}}),
 xaxis2:axis({domain:hDom(80,1222),anchor:'y2',range:[23.05,111.44],tickmode:'linear',tick0:40,dtick:20,ticklen:3,minor:minor(30,20),title:{text:'4th 8-hr high NAAQS (ppb)',font:TITLE,standoff:8}}),
 yaxis2:axis({domain:vDom(571,932),anchor:'x2',range:[-0.18,3.67],tickmode:'linear',tick0:0,dtick:1,ticklen:7,minor:minor(0.5,1),title:{text:'absolute uncertainty (ppb)',font:TITLE,standoff:11}}),
 xaxis3:axis({domain:hDom(86,1077),anchor:'y3',range:[-130.5,-61.94],tickmode:'array',tickvals:longTicks,ticktext:longTickLabels,ticklen:3,minor:minor(-130,20),title:{text:'long',font:TITLE,standoff:12}}),
 yaxis3:axis({domain:vDom(1083,1443),anchor:'x3',range:[23.86,51.2],tickmode:'linear',tick0:25,dtick:5,ticklen:7,minor:minor(27.5,5),title:{text:'lat',font:TITLE,standoff:4}}),
 annotations:[
  note('mean 1.422%',50,5,'x','y',29.3),
  note('median 1.471%',80,5,'x','y',29.3,'#FF0000'),
  note('mean 0.943',50,3.49,'x2','y2',29.3),
  note('median 1.000',80,3.49,'x2','y2',29.3,'#FF0000'),
  note('2016  bootstrap 50th percentile uncert',77.5/W,1-535/H,'paper','paper',35.3,'#000','left'),
  note('4th MDA8, rel uncert (%)',84.5/W,1-1048/H,'paper','paper',35.4,'#000','left'),
  note('LONG',1108.3/W,1-118/H,'paper','paper',29.3,'#000','left'),
  note('4%',1178.5/W,1-1149/H,'paper','paper',24,'#1a1a1a','left')
 ]
};
Plotly.newPlot('chart',traces,layout,{displayModeBar:false,staticPlot:true});
</script>
</body></html>
